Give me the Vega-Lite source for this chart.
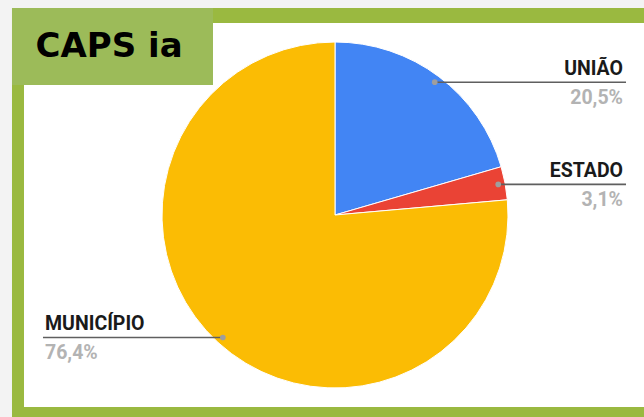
{
  "$schema": "https://vega.github.io/schema/vega-lite/v6.json",
  "width": 644,
  "height": 417,
  "padding": 0,
  "autosize": {"type": "none"},
  "background": "#f3f3f3",
  "config": {"view": {"stroke": null}, "font": "Roboto"},
  "layer": [
    {
      "data": {"values": [{}]},
      "mark": {"type": "rect", "fill": "#9ab940"},
      "encoding": {
        "x": {"datum": -1.8671, "type": "quantitative", "scale": {"domain": [-1.9364, 1.7861], "nice": false, "zero": false}, "axis": null},
        "x2": {"datum": 1.95},
        "y": {"datum": 1.1965, "type": "quantitative", "scale": {"domain": [-1.1676, 1.2428], "nice": false, "zero": false}, "axis": null},
        "y2": {"datum": -1.35}
      }
    },
    {
      "data": {"values": [{}]},
      "mark": {"type": "rect", "fill": "#ffffff"},
      "encoding": {
        "x": {"datum": -1.7977, "type": "quantitative", "axis": null},
        "x2": {"datum": 1.95},
        "y": {"datum": 1.1098, "type": "quantitative", "axis": null},
        "y2": {"datum": -1.1098}
      }
    },
    {
      "data": {"values": [{}]},
      "mark": {"type": "rect", "fill": "#9cbb59"},
      "encoding": {
        "x": {"datum": -1.8671, "type": "quantitative", "axis": null},
        "x2": {"datum": -0.7052},
        "y": {"datum": 1.1965, "type": "quantitative", "axis": null},
        "y2": {"datum": 0.7514}
      }
    },
    {
      "data": {"values": [{"titulo": "CAPS ia"}]},
      "mark": {"type": "text", "align": "center", "baseline": "alphabetic", "font": "DejaVu Sans", "fontWeight": "bold", "fontSize": 34, "color": "#000000"},
      "encoding": {
        "x": {"datum": -1.306, "type": "quantitative", "axis": null},
        "y": {"datum": 0.915, "type": "quantitative", "axis": null},
        "text": {"field": "titulo"}
      }
    },
    {
      "data": {"values": [
        {"esfera": "UNIÃO", "valor": 20.5, "rotulo": "20,5%"},
        {"esfera": "ESTADO", "valor": 3.1, "rotulo": "3,1%"},
        {"esfera": "MUNICÍPIO", "valor": 76.4, "rotulo": "76,4%"}
      ]},
      "transform": [
        {"window": [{"op": "sum", "field": "valor", "as": "fim"}], "frame": [null, 0]},
        {"calculate": "datum.fim - datum.valor", "as": "inicio"},
        {"calculate": "(datum.fim - datum.valor / 2) / 100 * 2 * PI", "as": "ang"},
        {"calculate": "0.96 * sin(datum.ang)", "as": "px"},
        {"calculate": "0.96 * cos(datum.ang)", "as": "py"},
        {"calculate": "sin(datum.ang) > 0 ? 1.6821 : -1.6879", "as": "lado"}
      ],
      "layer": [
        {
          "mark": {"type": "arc", "outerRadius": 173, "stroke": "#ffffff", "strokeWidth": 1},
          "encoding": {
            "x": {"datum": 0, "type": "quantitative", "axis": null},
            "y": {"datum": 0, "type": "quantitative", "axis": null},
            "theta": {"field": "inicio", "type": "quantitative", "scale": {"domain": [0, 100], "range": [0, 6.283185307]}},
            "theta2": {"field": "fim"},
            "color": {"field": "esfera", "type": "nominal", "scale": {"domain": ["UNIÃO", "ESTADO", "MUNICÍPIO"], "range": ["#4285f4", "#ea4335", "#fbbc04"]}, "legend": null}
          }
        },
        {
          "mark": {"type": "rule", "color": "#5f5f5f", "strokeWidth": 1.6},
          "encoding": {
            "x": {"field": "px", "type": "quantitative", "axis": null},
            "x2": {"field": "lado"},
            "y": {"field": "py", "type": "quantitative", "axis": null}
          }
        },
        {
          "mark": {"type": "point", "filled": true, "color": "#9e9e9e", "size": 32, "opacity": 1},
          "encoding": {
            "x": {"field": "px", "type": "quantitative", "axis": null},
            "y": {"field": "py", "type": "quantitative", "axis": null}
          }
        },
        {
          "transform": [{"filter": "datum.lado > 0"}],
          "mark": {"type": "text", "align": "right", "baseline": "alphabetic", "dy": -7, "dx": -3, "font": "Roboto", "fontWeight": "bold", "fontSize": 19.5, "color": "#1a1a1a"},
          "encoding": {
            "x": {"field": "lado", "type": "quantitative", "axis": null},
            "y": {"field": "py", "type": "quantitative", "axis": null},
            "text": {"field": "esfera"}
          }
        },
        {
          "transform": [{"filter": "datum.lado > 0"}],
          "mark": {"type": "text", "align": "right", "baseline": "alphabetic", "dy": 22, "dx": -3, "font": "Roboto", "fontWeight": "bold", "fontSize": 19.5, "color": "#b3b3b3"},
          "encoding": {
            "x": {"field": "lado", "type": "quantitative", "axis": null},
            "y": {"field": "py", "type": "quantitative", "axis": null},
            "text": {"field": "rotulo"}
          }
        },
        {
          "transform": [{"filter": "datum.lado < 0"}],
          "mark": {"type": "text", "align": "left", "baseline": "alphabetic", "dy": -7, "dx": 2, "font": "Roboto", "fontWeight": "bold", "fontSize": 19.5, "color": "#1a1a1a"},
          "encoding": {
            "x": {"field": "lado", "type": "quantitative", "axis": null},
            "y": {"field": "py", "type": "quantitative", "axis": null},
            "text": {"field": "esfera"}
          }
        },
        {
          "transform": [{"filter": "datum.lado < 0"}],
          "mark": {"type": "text", "align": "left", "baseline": "alphabetic", "dy": 22, "dx": 2, "font": "Roboto", "fontWeight": "bold", "fontSize": 19.5, "color": "#b3b3b3"},
          "encoding": {
            "x": {"field": "lado", "type": "quantitative", "axis": null},
            "y": {"field": "py", "type": "quantitative", "axis": null},
            "text": {"field": "rotulo"}
          }
        }
      ]
    }
  ]
}
